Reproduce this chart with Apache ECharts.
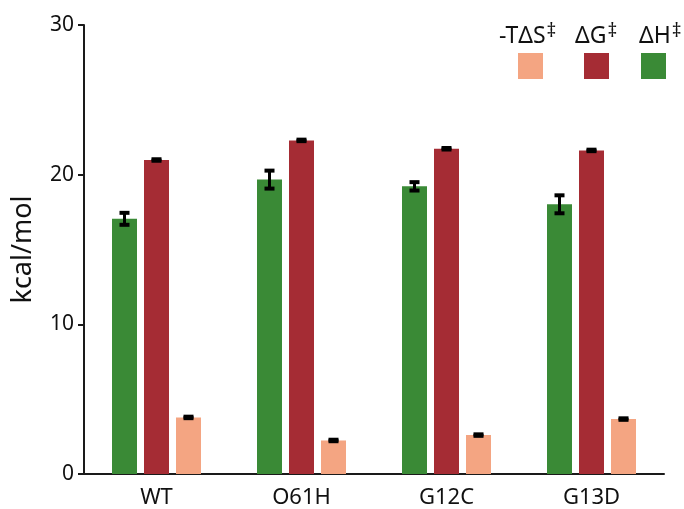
<!DOCTYPE html>
<html>
<head>
<meta charset="utf-8">
<script src="https://cdn.jsdelivr.net/npm/echarts@6/dist/echarts.min.js"></script>
<style>
  html, body { margin: 0; padding: 0; background: #fff; }
  #chart { width: 684px; height: 509px; }
</style>
</head>
<body>
<div id="chart"></div>
<script>
var categories = ["WT", "O61H", "G12C", "G13D"];
var dH = [17.05, 19.67, 19.22, 18.02];
var dHErr = [0.4, 0.6, 0.28, 0.6];
var dG = [20.98, 22.29, 21.73, 21.62];
var dGErr = [0.05, 0.05, 0.05, 0.05];
var tdS = [3.78, 2.24, 2.6, 3.67];
var tdSErr = [0.05, 0.05, 0.05, 0.05];
var yTicks = [0, 10, 20, 30];

var colors = { dH: "#3a8a36", dG: "#a52c34", tdS: "#f4a582" };
var font = "'Noto Sans', 'Open Sans', sans-serif";
var barW = 25;
var step = 32; // bar width + gap, pixel offset between bars in a group

// build [cat, low, high] rows for the error bars
function errRows(vals, errs) {
    var rows = [];
    for (var i = 0; i < vals.length; i++) {
        rows.push([i, vals[i] - errs[i], vals[i] + errs[i]]);
    }
    return rows;
}

function errSeries(name, vals, errs, offset) {
    return {
        type: "custom",
        name: name + "err",
        z: 5,
        data: errRows(vals, errs),
        renderItem: function (params, api) {
            var lo = api.coord([api.value(0), api.value(1)]);
            var hi = api.coord([api.value(0), api.value(2)]);
            var x = lo[0] + offset;
            var style = { fill: "#000" };
            return {
                type: "group",
                children: [
                    { type: "rect", shape: { x: x - 1.5, y: hi[1], width: 3, height: lo[1] - hi[1] }, style: style },
                    { type: "rect", shape: { x: x - 5, y: hi[1] - 2, width: 10, height: 4 }, style: style },
                    { type: "rect", shape: { x: x - 5, y: lo[1] - 2, width: 10, height: 4 }, style: style }
                ]
            };
        }
    };
}

function legendAt(name, left) {
    return {
        data: [name],
        left: left,
        top: 53,
        padding: 0,
        icon: "rect",
        itemWidth: 25,
        itemHeight: 26,
        selectedMode: false,
        formatter: function () { return ""; }
    };
}

function label(main, x) {
    return {
        type: "text",
        left: x,
        top: 22,
        style: {
            text: "{m|" + main + "}{s|‡}",
            rich: {
                m: { fontFamily: font, fontSize: 23, fill: "#111", lineHeight: 30 },
                s: { fontFamily: font, fontSize: 19, fill: "#111", lineHeight: 30, padding: [0, 0, 10, 1] }
            }
        }
    };
}

var chart = echarts.init(document.getElementById("chart"));
var option = {
    animation: false,
    backgroundColor: "#fff",
    grid: { left: 84, right: 20, top: 25, bottom: 34 },
    legend: [
        legendAt("-TΔS‡", 518),
        legendAt("ΔG‡", 584),
        legendAt("ΔH‡", 641)
    ],
    graphic: [
        label("-TΔS", 499),
        label("ΔG", 575),
        label("ΔH", 639)
    ],
    xAxis: {
        type: "category",
        data: categories,
        axisLine: { lineStyle: { color: "#1a1a1a", width: 2 } },
        axisTick: { alignWithLabel: true, length: 6, lineStyle: { color: "#1a1a1a", width: 2 } },
        axisLabel: { fontFamily: font, fontSize: 22, color: "#111", margin: 13 }
    },
    yAxis: {
        type: "value",
        min: 0,
        max: 30,
        interval: 10,
        name: "kcal/mol",
        nameLocation: "middle",
        nameGap: 47,
        nameTextStyle: { fontFamily: font, fontSize: 27, color: "#111" },
        axisLine: { show: true, lineStyle: { color: "#1a1a1a", width: 2 } },
        axisTick: { show: true, length: 6, lineStyle: { color: "#1a1a1a", width: 2 } },
        splitLine: { show: false },
        axisLabel: {
            fontFamily: font, fontSize: 21, color: "#111", margin: 10,
            formatter: function (v) { return yTicks.indexOf(v) >= 0 ? String(v) : ""; }
        }
    },
    series: [
        { type: "bar", name: "ΔH‡", data: dH, barWidth: barW, barGap: "28%", itemStyle: { color: colors.dH } },
        { type: "bar", name: "ΔG‡", data: dG, barWidth: barW, barGap: "28%", itemStyle: { color: colors.dG } },
        { type: "bar", name: "-TΔS‡", data: tdS, barWidth: barW, barGap: "28%", itemStyle: { color: colors.tdS } },
        errSeries("dH", dH, dHErr, -step),
        errSeries("dG", dG, dGErr, 0),
        errSeries("tdS", tdS, tdSErr, step)
    ]
};
chart.setOption(option);
</script>
</body>
</html>
